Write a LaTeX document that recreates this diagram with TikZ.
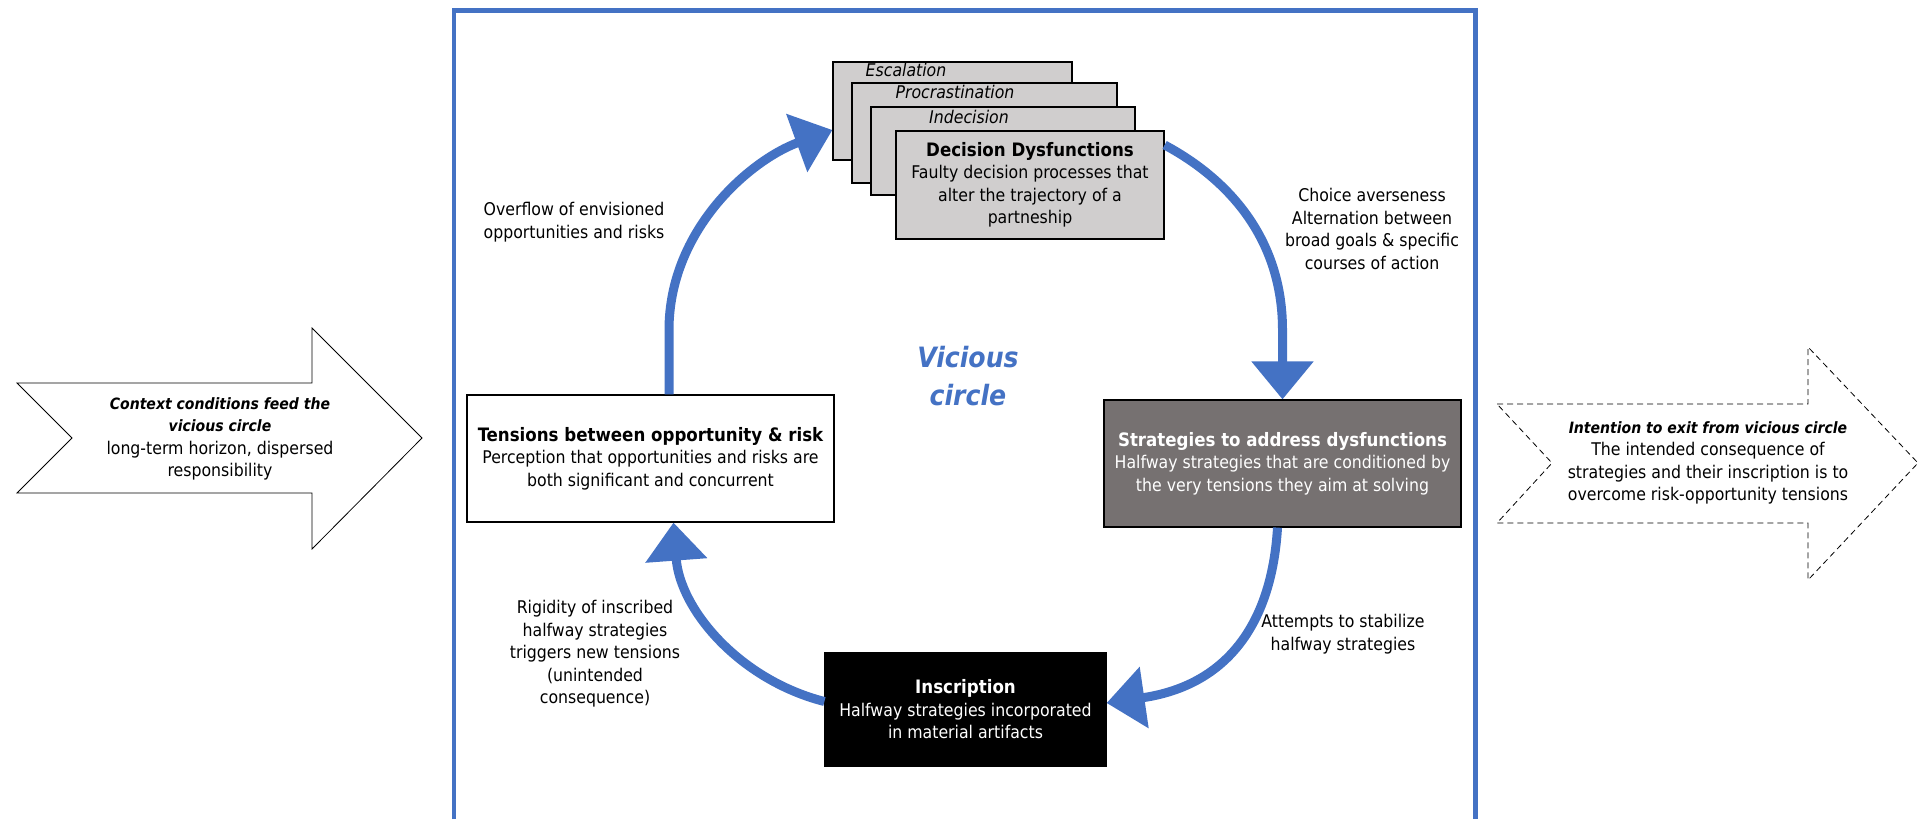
\documentclass[tikz,border=0pt]{standalone}
\usepackage{fontspec}
\setmainfont{DejaVu Sans Condensed}
\usetikzlibrary{arrows.meta}
\definecolor{vcblue}{HTML}{4472C4}
\definecolor{stratgray}{HTML}{767171}
\definecolor{decgray}{HTML}{D0CECE}
\newcommand{\ttl}{\fontsize{18.5}{23}\selectfont\bfseries}
\newcommand{\emttl}{\fontsize{15.6}{22.5}\selectfont\bfseries\itshape}
\begin{document}
\begin{tikzpicture}[x=1pt,y=-1pt,
  every node/.style={font=\fontsize{17.5}{22.5}\selectfont,align=center,inner sep=0pt},
  stage/.style={draw=black,line width=1.2pt},
  stack/.style={stage,fill=decgray},
  cyclearrow/.style={draw=vcblue,line width=9pt,-{Triangle[width=60pt,length=38pt]}},
  blockarrow/.style={draw=black,line width=0.8pt,fill=white}]
\useasboundingbox (0,0) rectangle (1919,819);
% frame of the vicious circle
\draw[vcblue,line width=4.5pt] (454,819) -- (454,10.5) -- (1475.5,10.5) -- (1475.5,819);
% outer block arrows
\draw[blockarrow] (17,383) -- (312,383) -- (312,328) -- (422,438) -- (312,549) -- (312,493) -- (17,493) -- (72,438) -- cycle;
\node (context) at (220,439) {\emttl Context conditions feed the\\\emttl vicious circle\\long-term horizon, dispersed\\responsibility};
\draw[blockarrow,dash pattern=on 6pt off 4pt] (1497,404) -- (1808,404) -- (1808,347) -- (1918,463) -- (1808,580) -- (1808,523) -- (1497,523) -- (1552,463) -- cycle;
\node (exit) at (1708,463) {\emttl Intention to exit from vicious circle\\The intended consequence of\\strategies and their inscription is to\\overcome risk-opportunity tensions};
% stacked decision boxes
\foreach \nm/\cx/\cy/\w/\h in {esc/952.5/111/239/98, procr/984.5/133/265/100, indec/1003/151/264/88}
  \node[stack,minimum width=\w pt,minimum height=\h pt] (\nm) at (\cx,\cy) {};
\node[font=\fontsize{17.5}{22}\selectfont\itshape] (esclbl) at (906,70) {Escalation};
\node[font=\fontsize{17.5}{22}\selectfont\itshape] (procrlbl) at (955,92) {Procrastination};
\node[font=\fontsize{17.5}{22}\selectfont\itshape] (indeclbl) at (969,117) {Indecision};
\node[stack,minimum width=268pt,minimum height=108pt] (dysf) at (1030,185) {\ttl Decision Dysfunctions\\Faulty decision processes that\\alter the trajectory of a\\partneship};
% the four stages
\node[stage,fill=white,minimum width=367pt,minimum height=127pt] (tension) at (650.5,458.5) {\ttl Tensions between opportunity \& risk\\Perception that opportunities and risks are\\both significant and concurrent};
\node[stage,fill=stratgray,text=white,minimum width=357pt,minimum height=127pt] (strat) at (1282.5,463.5) {\ttl Strategies to address dysfunctions\\Halfway strategies that are conditioned by\\the very tensions they aim at solving};
\node[stage,fill=black,text=white,minimum width=281pt,minimum height=113pt] (inscr) at (965.5,709.5) {\ttl Inscription\\Halfway strategies incorporated\\in material artifacts};
\node[font=\fontsize{28}{38}\selectfont\bfseries\itshape,text=vcblue] (vicious) at (968,376) {Vicious\\circle};
% cycle arrows
\draw[cyclearrow] ([xshift=18.5pt]tension.north) -- (669,330) .. controls (669,230) and (750,160) .. ([yshift=-19pt]esc.west);
\draw[cyclearrow] ([yshift=40pt]dysf.east) .. controls (1230,180) and (1282.5,240) .. (1282.5,330) -- (strat.north);
\draw[cyclearrow] ([xshift=-5pt]strat.south) .. controls (1272,620) and (1230,685) .. ([yshift=6.5pt]inscr.east);
\draw[cyclearrow] ([yshift=8pt]inscr.west) .. controls (740,680) and (680,610) .. ([xshift=23pt]tension.south);
% arrow labels
\node (overflowlbl) at (574,222) {Overflow of envisioned\\opportunities and risks};
\node (choicelbl) at (1372,229) {Choice averseness\\Alternation between\\broad goals \& specific\\courses of action};
\node (attemptslbl) at (1343,634) {Attempts to stabilize\\halfway strategies};
\node (rigiditylbl) at (595,654) {Rigidity of inscribed\\halfway strategies\\triggers new tensions\\(unintended\\consequence)};
\end{tikzpicture}
\end{document}
